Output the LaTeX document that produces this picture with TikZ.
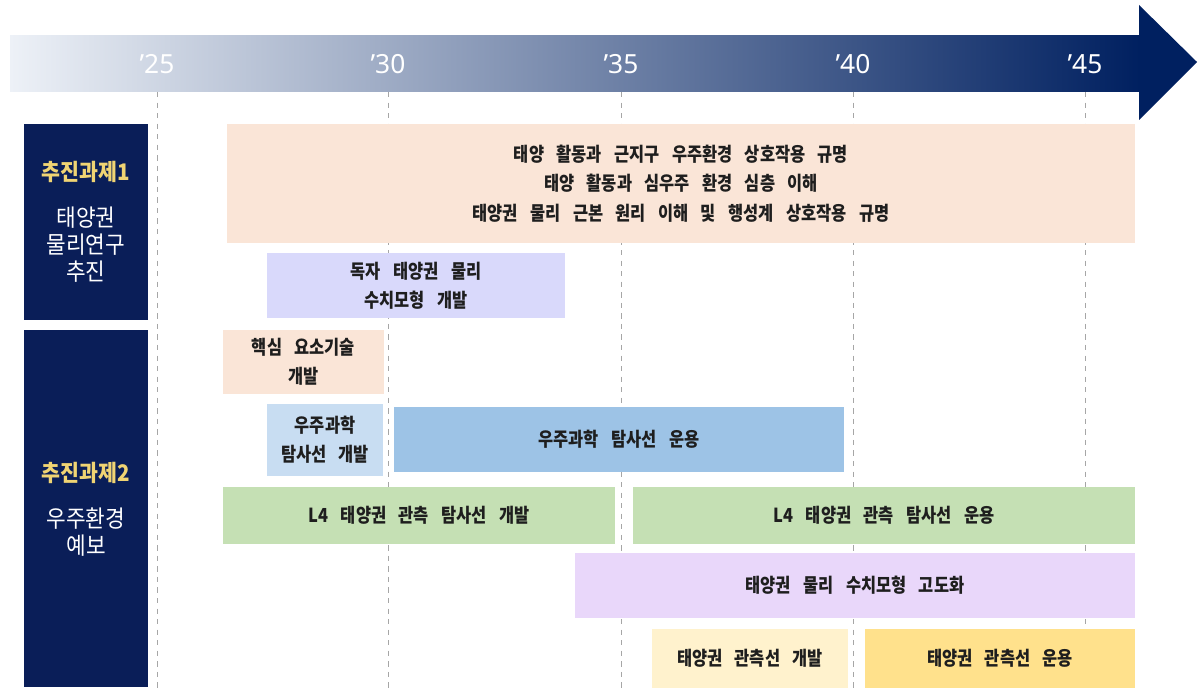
\documentclass[tikz,border=0pt]{standalone}
\usepackage{fontspec}
\usepackage{tikz}

\newfontfamily\krfont{Noto Sans CJK KR}[FakeStretch=0.85,WordSpace=3.3]
\newfontfamily\krwide{Noto Sans CJK KR}[FakeStretch=0.9]
\newfontfamily\yrfont{Noto Sans}

\begin{document}
\begin{tikzpicture}[x=0.02cm, y=-0.02cm,
    bar/.style={rectangle, inner sep=0pt, text=barink, align=center,
                font=\krfont\bfseries\fontsize{11}{16.7}\selectfont},
    taskbox/.style={rectangle, fill=navy, inner sep=0pt, minimum width=2.48cm},
    tasktitle/.style={text=gold, font=\krwide\bfseries\fontsize{13}{15}\selectfont},
    taskbody/.style={text=white, align=center, font=\krwide\fontsize{13.5}{15.3}\selectfont},
    yearlabel/.style={text=white, font=\yrfont\fontsize{15}{18}\selectfont}]
	\begin{scope}

	\definecolor{navy}{RGB}{10,30,88}
	\definecolor{arrowlight}{RGB}{237,241,247}
	\definecolor{arrowdark}{RGB}{0,32,96}
	\definecolor{gold}{RGB}{240,212,115}
	\definecolor{barink}{RGB}{30,30,30}
	\definecolor{peach}{RGB}{250,229,215}
	\definecolor{lavender}{RGB}{217,217,251}
	\definecolor{paleblue}{RGB}{200,221,242}
	\definecolor{midblue}{RGB}{157,195,230}
	\definecolor{sage}{RGB}{197,224,180}
	\definecolor{lilac}{RGB}{233,215,250}
	\definecolor{cream}{RGB}{255,242,205}
	\definecolor{butter}{RGB}{255,225,140}

	\useasboundingbox (0,0) rectangle (1200,695);
	\fill[white] (0,0) rectangle (1200,695);

	%% Draw time arrow
    \shade[left color=arrowlight, right color=arrowdark] (10,36) rectangle (1140,92);
    \fill[arrowdark] (1139,5) -- (1197,62) -- (1139,120) -- cycle;

	%% Draw year labels
    \node[yearlabel] (y25) at (157,64) {’25};
    \node[yearlabel] (y30) at (388,64) {’30};
    \node[yearlabel] (y35) at (621,64) {’35};
    \node[yearlabel] (y40) at (853,64) {’40};
    \node[yearlabel] (y45) at (1085,64) {’45};

	%% Draw dashed year lines
    \draw[gray!70, dashed, line width=0.5pt] (157,92) -- (157,690);
    \draw[gray!70, dashed, line width=0.5pt] (388,92) -- (388,690);
    \draw[gray!70, dashed, line width=0.5pt] (621,92) -- (621,690);
    \draw[gray!70, dashed, line width=0.5pt] (853,92) -- (853,690);
    \draw[gray!70, dashed, line width=0.5pt] (1085,92) -- (1085,690);

	%% Draw task boxes
    \node[taskbox, minimum height=3.92cm] (task1) at (86,222) {};
    \node[taskbox, minimum height=7.14cm] (task2) at (86,508.5) {};
    \node[tasktitle] (task1title) at (86,172) {추진과제1};
    \node[taskbody]  (task1body)  at (86,245) {태양권\\물리연구\\추진};
    \node[tasktitle] (task2title) at (86,473) {추진과제2};
    \node[taskbody]  (task2body)  at (86,532) {우주환경\\예보};

	%% Draw bars of task 1
    \node[bar, fill=peach,    minimum width=18.16cm, minimum height=2.38cm] (helio)    at (681,183.5)
        {태양 활동과 근지구 우주환경 상호작용 규명\\태양 활동과 심우주 환경 심층 이해\\태양권 물리 근본 원리 이해 및 행성계 상호작용 규명};
    \node[bar, fill=lavender, minimum width=5.96cm,  minimum height=1.30cm] (ownmodel) at (416,285.5)
        {독자 태양권 물리\\수치모형 개발};

	%% Draw bars of task 2
    \node[bar, fill=peach,    minimum width=3.22cm,  minimum height=1.28cm] (coretech) at (303.5,362)  {핵심 요소기술\\개발};
    \node[bar, fill=paleblue, minimum width=2.32cm,  minimum height=1.44cm] (scidev)   at (325,440)    {우주과학\\탐사선 개발};
    \node[bar, fill=midblue,  minimum width=9.00cm,  minimum height=1.30cm] (sciop)    at (619,439.5)  {우주과학 탐사선 운용};
    \node[bar, fill=sage,     minimum width=7.84cm,  minimum height=1.14cm] (ldev)     at (419,515.5)  {L4 태양권 관측 탐사선 개발};
    \node[bar, fill=sage,     minimum width=10.04cm, minimum height=1.14cm] (lop)      at (884,515.5)  {L4 태양권 관측 탐사선 운용};
    \node[bar, fill=lilac,    minimum width=11.20cm, minimum height=1.30cm] (modeladv) at (855,585.5)  {태양권 물리 수치모형 고도화};
    \node[bar, fill=cream,    minimum width=3.92cm,  minimum height=1.18cm] (obsdev)   at (750,658.5)  {태양권 관측선 개발};
    \node[bar, fill=butter,   minimum width=5.40cm,  minimum height=1.18cm] (obsop)    at (1000,658.5) {태양권 관측선 운용};
    \end{scope}
\end{tikzpicture}
\end{document}
